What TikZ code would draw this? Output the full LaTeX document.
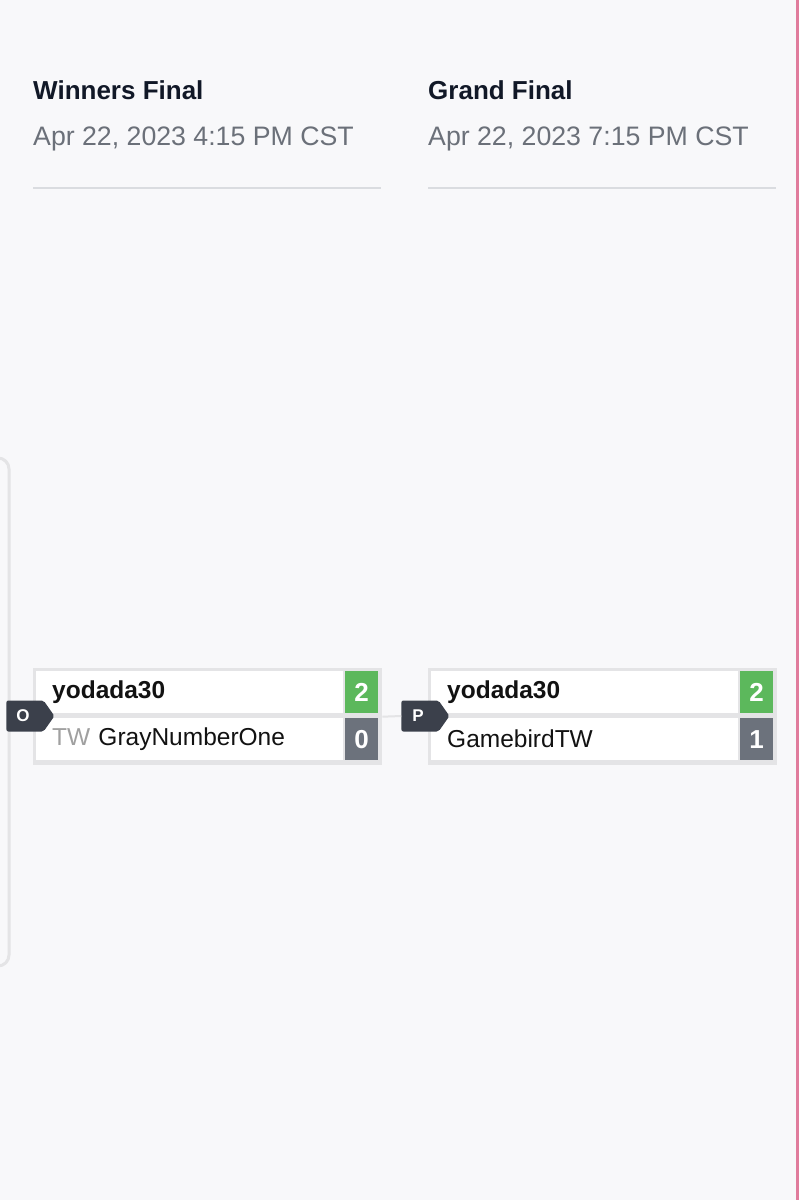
\documentclass[tikz,border=0pt]{standalone}
\usepackage{fontspec}
\setmainfont{Liberation Sans}
\usetikzlibrary{shapes.symbols,positioning}
\definecolor{pagebg}{HTML}{F8F8FA}
\definecolor{headink}{HTML}{111827}
\definecolor{dateink}{HTML}{6B7079}
\definecolor{ruleink}{HTML}{DADCE0}
\definecolor{boxgray}{HTML}{E4E4E6}
\definecolor{wingreen}{HTML}{5CB85C}
\definecolor{losegray}{HTML}{6C727C}
\definecolor{tagdark}{HTML}{3B404B}
\definecolor{pinkedge}{HTML}{E07C9C}
\definecolor{tagink}{HTML}{A0A0A0}
\tikzset{
  roundtitle/.style={anchor=base west,inner sep=0pt,text=headink,font=\fontsize{26}{30}\selectfont\bfseries},
  rounddate/.style={anchor=base west,inner sep=0pt,text=dateink,font=\fontsize{26.7}{30}\selectfont},
  matchbox/.style={anchor=north west,fill=boxgray,minimum width=349pt,minimum height=97pt,inner sep=0pt},
  playerrow/.style={anchor=north west,fill=white,text width=275pt,inner xsep=16pt,inner ysep=0pt,
    minimum height=42pt,align=left,text=black!93,font=\fontsize{24.5}{28}\selectfont},
  scorebox/.style={anchor=north west,minimum width=33pt,minimum height=42pt,inner sep=0pt,
    text=white,font=\fontsize{26}{28}\selectfont\bfseries},
  roundtag/.style={shape=signal,signal to=east,signal pointer angle=110,fill=tagdark,
    minimum width=48pt,minimum height=31pt,inner sep=0pt,rounded corners=2pt},
  tagletter/.style={text=white,font=\fontsize{17}{20}\selectfont\bfseries,xshift=-2pt}
}
\begin{document}
\begin{tikzpicture}[x=1pt,y=-1pt]
\useasboundingbox (0,0) rectangle (799,1200);
\fill[pagebg] (0,0) rectangle (799,1200);
\fill[pinkedge] (796,0) rectangle (799,1200);
% bracket coming in from the left
\draw[boxgray,line width=3pt,rounded corners=11pt] (-10,458) -- (9,458) -- (9,966) -- (-10,966);
% round headers
\node[roundtitle] (wfTitle) at (33,99) {Winners Final};
\node[rounddate] (wfDate) at (33,145) {Apr 22, 2023 4:15 PM CST};
\node[roundtitle] (gfTitle) at (428,99) {Grand Final};
\node[rounddate] (gfDate) at (428,145) {Apr 22, 2023 7:15 PM CST};
\begin{scope}[ruleink,line width=2pt]
\draw (33,188) -- (381,188);
\draw (428,188) -- (776,188);
\end{scope}
% winners final
\node[matchbox] (wf) at (33,668) {};
\node[playerrow] (wfTop) at (36,671) {\textbf{yodada30}};
\node[playerrow] (wfBot) at (36,718) {{\color{tagink}TW} GrayNumberOne};
\node[scorebox,fill=wingreen] (wfTopScore) at (345,671) {2};
\node[scorebox,fill=losegray] (wfBotScore) at (345,718) {0};
% grand final
\node[matchbox] (gf) at (428,668) {};
\node[playerrow] (gfTop) at (431,671) {\textbf{yodada30}};
\node[playerrow] (gfBot) at (431,718) {GamebirdTW};
\node[scorebox,fill=wingreen] (gfTopScore) at (740,671) {2};
\node[scorebox,fill=losegray] (gfBotScore) at (740,718) {1};
% tags and link
\node[roundtag,label={[tagletter]center:O}] (tagO) at (25,716) {};
\node[roundtag,label={[tagletter]center:P}] (tagP) at (420,716) {};
\draw[boxgray,line width=2pt] (wf.east) -- (tagP.west);
\end{tikzpicture}
\end{document}
